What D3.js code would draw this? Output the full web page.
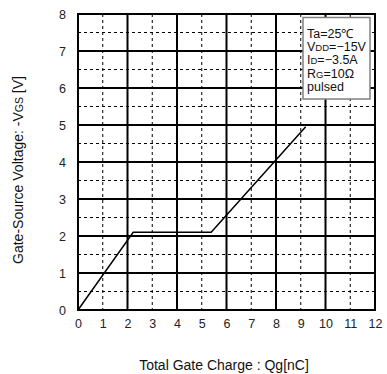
<!DOCTYPE html>
<html>
<head>
<meta charset="utf-8">
<script src="https://cdn.jsdelivr.net/npm/d3@7"></script>
<style>
  html, body { margin: 0; padding: 0; background: #fff; }
  svg { display: block; font-family: "Liberation Sans", Arial, sans-serif; }
</style>
</head>
<body>
<svg id="chart" width="387" height="374"></svg>
<script>
// Gate charge curve: -VGS versus total gate charge Qg
const qg = [0, 2.23, 5.38, 9.2];
const vgs = [0, 2.1, 2.1, 4.95];

const xTicks = [0, 1, 2, 3, 4, 5, 6, 7, 8, 9, 10, 11, 12];
const yTicks = [0, 1, 2, 3, 4, 5, 6, 7, 8];
const yMinor = [0.5, 1.5, 2.5, 3.5, 4.5, 5.5, 6.5, 7.5];

const conditions = [
  { main: "Ta=25℃", sub: "", rest: "" },
  { main: "V", sub: "DD", rest: "=−15V" },
  { main: "I", sub: "D", rest: "=−3.5A" },
  { main: "R", sub: "G", rest: "=10Ω" },
  { main: "pulsed", sub: "", rest: "" }
];

const svg = d3.select("#chart");
const plotLeft = 78, plotRight = 375, plotTop = 14, plotBottom = 310;

const x = d3.scaleLinear().domain([0, 12]).range([plotLeft, plotRight]);
const y = d3.scaleLinear().domain([0, 8]).range([plotBottom, plotTop]);

const grid = svg.append("g");

// dashed minor grid: odd charge values and half-volt levels
grid.selectAll("line.vdash")
  .data(xTicks.filter(d => d % 2 === 1))
  .join("line")
  .attr("x1", d => x(d)).attr("x2", d => x(d))
  .attr("y1", plotTop).attr("y2", plotBottom)
  .attr("stroke", "#000").attr("stroke-width", 1)
  .attr("stroke-dasharray", "3,3");

grid.selectAll("line.hdash")
  .data(yMinor)
  .join("line")
  .attr("x1", plotLeft).attr("x2", plotRight)
  .attr("y1", d => y(d)).attr("y2", d => y(d))
  .attr("stroke", "#000").attr("stroke-width", 1)
  .attr("stroke-dasharray", "3,3");

// solid major grid
grid.selectAll("line.vsolid")
  .data(xTicks.filter(d => d % 2 === 0 && d > 0 && d < 12))
  .join("line")
  .attr("x1", d => x(d)).attr("x2", d => x(d))
  .attr("y1", plotTop).attr("y2", plotBottom)
  .attr("stroke", "#000").attr("stroke-width", 2);

grid.selectAll("line.hsolid")
  .data(yTicks.filter(d => d > 0 && d < 8))
  .join("line")
  .attr("x1", plotLeft).attr("x2", plotRight)
  .attr("y1", d => y(d)).attr("y2", d => y(d))
  .attr("stroke", "#000").attr("stroke-width", 2);

// plot frame
svg.append("rect")
  .attr("x", plotLeft).attr("y", plotTop)
  .attr("width", plotRight - plotLeft).attr("height", plotBottom - plotTop)
  .attr("fill", "none").attr("stroke", "#000").attr("stroke-width", 2);

// axes (labels only)
const xAxis = d3.axisBottom(x).tickValues(xTicks).tickSize(0).tickPadding(9);
svg.append("g")
  .attr("transform", `translate(0,${plotBottom})`)
  .call(xAxis)
  .call(g => g.select(".domain").remove())
  .call(g => g.selectAll("text")
    .attr("font-family", "Liberation Sans, Arial, sans-serif")
    .attr("font-size", 12.5).attr("fill", "#222"));

const yAxis = d3.axisLeft(y).tickValues(yTicks).tickSize(0).tickPadding(12);
svg.append("g")
  .attr("transform", `translate(${plotLeft},0)`)
  .call(yAxis)
  .call(g => g.select(".domain").remove())
  .call(g => g.selectAll("text")
    .attr("font-family", "Liberation Sans, Arial, sans-serif")
    .attr("font-size", 12.5).attr("fill", "#222"));

// curve
const line = d3.line().x((d, i) => x(qg[i])).y(d => y(d));
svg.append("path")
  .datum(vgs)
  .attr("d", line)
  .attr("fill", "none")
  .attr("stroke", "#000")
  .attr("stroke-width", 1.5);

// conditions box
const box = svg.append("g");
box.append("rect")
  .attr("x", 303).attr("y", 17.5)
  .attr("width", 67).attr("height", 81.5)
  .attr("fill", "#fff")
  .attr("stroke", "#808080").attr("stroke-width", 1.5);

const cond = box.append("g")
  .attr("font-size", 12.5).attr("fill", "#111");
conditions.forEach((c, i) => {
  const t = cond.append("text").attr("x", 307).attr("y", 38 + i * 13.2);
  t.append("tspan").text(c.main);
  if (c.sub) t.append("tspan").attr("font-size", 9.5).text(c.sub);
  if (c.rest) t.append("tspan").attr("font-size", 12.5).text(c.rest);
});

// axis titles
svg.append("text")
  .attr("x", 224).attr("y", 370)
  .attr("text-anchor", "middle")
  .attr("font-size", 14).attr("fill", "#111")
  .text("Total Gate Charge : Qg[nC]");

const yt = svg.append("text")
  .attr("transform", "translate(23,170) rotate(-90)")
  .attr("text-anchor", "middle")
  .attr("font-size", 14).attr("fill", "#111");
yt.append("tspan").text("Gate-Source Voltage: -V");
yt.append("tspan").attr("font-size", 10.5).text("GS");
yt.append("tspan").text(" [V]");
</script>
</body>
</html>
